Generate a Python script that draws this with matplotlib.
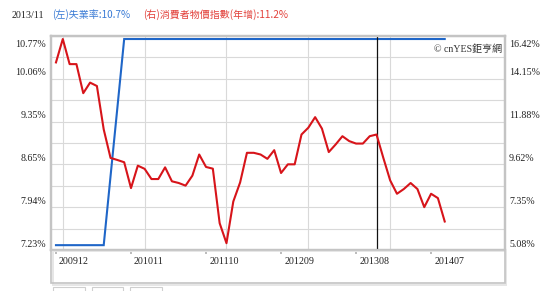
import matplotlib
matplotlib.use("Agg")
import matplotlib.pyplot as plt
import matplotlib.transforms as mtransforms
from matplotlib.patches import Rectangle

# ---------------- data ----------------
start_year, start_month = 2009, 12
n_months = 58
months = []
y, m = start_year, start_month
for _ in range(n_months):
    months.append(f"{y}{m:02d}")
    m += 1
    if m > 12:
        m = 1
        y += 1

# (右) 消費者物價指數(年增) %
cpi = [15.02, 16.26, 14.93, 14.93, 13.39, 13.95, 13.77, 11.47, 9.96, 9.85,
       9.73, 8.36, 9.55, 9.38, 8.84, 8.84, 9.46, 8.72, 8.63, 8.49,
       9.02, 10.14, 9.48, 9.39, 6.50, 5.44, 7.65, 8.66, 10.23, 10.23,
       10.14, 9.91, 10.37, 9.16, 9.62, 9.62, 11.20, 11.56, 12.12, 11.51,
       10.27, 10.67, 11.11, 10.85, 10.72, 10.72, 11.11, 11.20, 9.96, 8.77,
       8.06, 8.31, 8.63, 8.31, 7.35, 8.06, 7.83, 6.59]

# (左) 失業率 %
unemp = [7.31] * 8 + [8.45, 9.58] + [10.72] * 48

left_ticks = [7.23, 7.94, 8.65, 9.35, 10.06, 10.77]
right_ticks = [5.08, 7.35, 9.62, 11.88, 14.15, 16.42]
x_tick_labels = ["200912", "201011", "201110", "201209", "201308", "201407"]
year_grid_labels = ["201001", "201101", "201201", "201301", "201401"]
cursor_month = "201311"
title_date = "2013/11"
title_left = "(左)失業率:10.7%"
title_right = "(右)消費者物價指數(年增):11.2%"
watermark = "© cnYES鉅亨網"

# ---------------- style ----------------
W, H = 553, 291
BLUE = "#1f66c8"
RED = "#d7141a"
GRID = "#d9d9d9"
FRAME = "#c4c4c4"
TXT = "#222222"
FS = 7.2
SERIF = ["Liberation Serif", "DejaVu Serif"]
CJK = ["Noto Sans CJK TC", "DejaVu Sans"]

fig = plt.figure(figsize=(W / 100, H / 100), dpi=100)
fig.patch.set_facecolor("white")

def fx(px):
    return px / W

def fy(py):
    return 1 - py / H

L, R, T, B = 51, 505, 36, 250
ax = fig.add_axes([fx(L), fy(B), fx(R - L), (B - T) / H])
ax2 = ax.twinx()

idx = list(range(n_months))
x_left = -0.73
x_right = x_left + (R - L) / 6.82
ax.set_xlim(x_left, x_right)
ax.set_ylim(left_ticks[0], left_ticks[-1])
ax2.set_ylim(right_ticks[0], right_ticks[-1])

# grid
step = (left_ticks[-1] - left_ticks[0]) / 10
ax.set_yticks(left_ticks)
ax.set_yticks([left_ticks[0] + step * (2 * k + 1) for k in range(5)], minor=True)
ax.tick_params(axis="y", which="both", length=0, labelleft=False)
ax2.set_yticks(right_ticks)
ax2.tick_params(axis="y", which="both", length=0, labelright=False)
ax.grid(axis="y", which="both", color=GRID, lw=0.8)

xt = [months.index(s) for s in x_tick_labels]
ax.set_xticks(xt)
ax.set_xticks([months.index(s) for s in year_grid_labels], minor=True)
ax.tick_params(axis="x", which="major", length=3, color="#b0b0b0", width=1.2,
               labelbottom=False)
ax.tick_params(axis="x", which="minor", length=0)
ax.grid(axis="x", which="minor", color=GRID, lw=0.8)
ax.set_axisbelow(True)

for a in (ax, ax2):
    for s in a.spines.values():
        s.set_color(FRAME)
        s.set_linewidth(1.6)

# lines
ax.plot(idx, unemp, color=BLUE, lw=1.5, zorder=3, solid_joinstyle="miter")
ax2.plot(idx, cpi, color=RED, lw=1.5, zorder=3)
ax.axvline(months.index(cursor_month), color="#111111", lw=0.9, zorder=4)

# y labels
blend_l = mtransforms.blended_transform_factory(fig.transFigure, ax.transData)
blend_r = mtransforms.blended_transform_factory(fig.transFigure, ax2.transData)
for i, v in enumerate(left_ticks):
    dy = 4.3 if i < len(left_ticks) - 1 else -5.8
    tr = mtransforms.offset_copy(blend_l, fig=fig, x=0, y=dy, units="points")
    fig.text(fx(46), v, f"{v:.2f}%", transform=tr, ha="right", va="center",
             fontsize=FS, family=SERIF, color=TXT)
for i, v in enumerate(right_ticks):
    dy = 4.3 if i < len(right_ticks) - 1 else -5.8
    tr = mtransforms.offset_copy(blend_r, fig=fig, x=0, y=dy, units="points")
    fig.text(fx(509), v, f"{v:.2f}%", transform=tr, ha="left", va="center",
             fontsize=FS, family=SERIF, color=TXT)

# x labels
blend_x = mtransforms.blended_transform_factory(ax.transData, fig.transFigure)
for lab in x_tick_labels:
    tr = mtransforms.offset_copy(blend_x, fig=fig, x=2.2, y=0, units="points")
    fig.text(months.index(lab), fy(262), lab, transform=tr, ha="left",
             va="center", fontsize=FS, family=SERIF, color=TXT)

# watermark
ax.text(fx(502 - L) / fx(R - L), 1 - (49 - T) / (B - T), watermark,
        transform=ax.transAxes, ha="right", va="center", fontsize=FS,
        family=SERIF + CJK, color="#333333", zorder=5)

# title
fig.text(fx(12), fy(15), title_date, ha="left", va="center", fontsize=FS,
         family=SERIF, color=TXT)
fig.text(fx(52), fy(15), title_left, ha="left", va="center", fontsize=FS,
         family=CJK, color="#3a7bd5")
fig.text(fx(143), fy(15), title_right, ha="left", va="center", fontsize=FS,
         family=CJK, color="#e2403a")

# lower box (axis area frame) and buttons
fig.patches.append(Rectangle((fx(L + 1.5), fy(284.5)), fx(R - L), (284.5 - B - 1) / H,
                             transform=fig.transFigure, facecolor="none",
                             edgecolor="#e6e6e6", lw=1.4, zorder=0))
fig.patches.append(Rectangle((fx(L), fy(283)), fx(R - L), (283 - B) / H,
                             transform=fig.transFigure, facecolor="none",
                             edgecolor=FRAME, lw=1.2, zorder=1))
for x0, x1 in [(53, 85), (92, 123), (130, 162)]:
    fig.patches.append(Rectangle((fx(x0), fy(293)), fx(x1 - x0), 6 / H,
                                 transform=fig.transFigure, facecolor="white",
                                 edgecolor="#cfcfcf", lw=0.8))

fig.savefig("out.png", dpi=100, facecolor="white")
